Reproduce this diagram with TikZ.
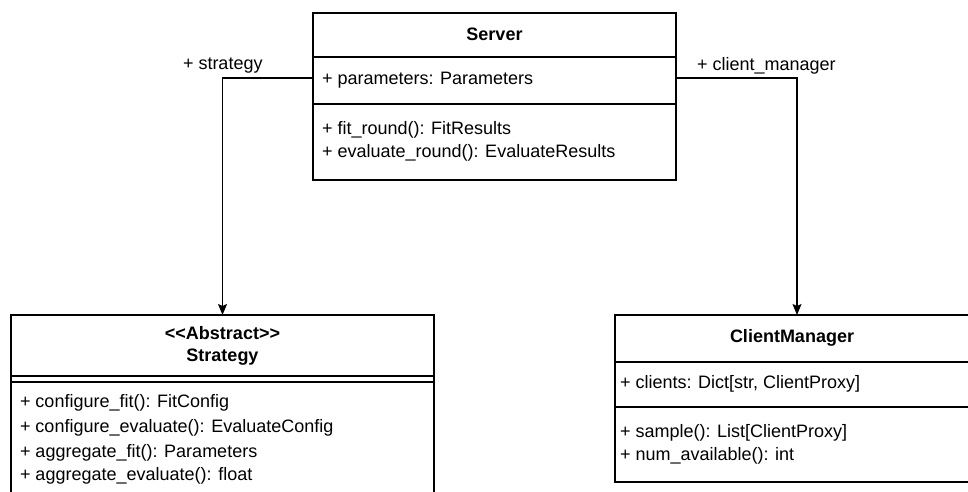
\documentclass[tikz,border=0pt]{standalone}
\usepackage{fontspec}
\setmainfont{Liberation Sans}
\usetikzlibrary{arrows.meta}
\begin{document}
\begin{tikzpicture}[x=1pt,y=-1pt,
  every node/.style={font=\fontsize{18}{22}\selectfont, inner sep=0pt, outer sep=0pt},
  classbox/.style={draw, line width=1.2pt, rectangle, anchor=north west},
  sepline/.style={line width=1.2pt},
  member/.style={anchor=west},
  title/.style={font=\fontsize{18}{22}\selectfont\bfseries},
  assoc/.style={line width=1.2pt, -{Stealth[length=11pt,width=9pt,inset=2pt]}}]
\useasboundingbox (0,0) rectangle (968,491);
\clip (0,0) rectangle (968,491);

% Server
\node[classbox, minimum width=363pt, minimum height=167pt] (server) at (313,13) {};
\draw[sepline] (313,57) -- (676,57);
\draw[sepline] (313,104) -- (676,104);
\node[title] (serverT) at (494.5,34) {Server};
\node[member] (serverA) at (322,80) {+ parameters: Parameters};
\node[member] (serverM1) at (322,130) {+ fit\_round(): FitResults};
\node[member] (serverM2) at (322,153) {+ evaluate\_round(): EvaluateResults};

% Strategy
\node[classbox, minimum width=423pt, minimum height=220pt] (strategy) at (11,315) {};
\draw[sepline] (11,376) -- (434,376);
\draw[sepline] (11,382) -- (434,382);
\node[title] (strategyS) at (222.5,333) {<{}<Abstract>{}>};
\node[title] (strategyT) at (222.5,357) {Strategy};
\node[member] (strategyM1) at (20,403) {+ configure\_fit(): FitConfig};
\node[member] (strategyM2) at (20,428) {+ configure\_evaluate(): EvaluateConfig};
\node[member] (strategyM3) at (20,453) {+ aggregate\_fit(): Parameters};
\node[member] (strategyM4) at (20,476) {+ aggregate\_evaluate(): float};

% ClientManager
\node[classbox, minimum width=360pt, minimum height=167pt] (cm) at (615,315) {};
\draw[sepline] (615,362) -- (975,362);
\draw[sepline] (615,407) -- (975,407);
\node[title] (cmT) at (792,338) {ClientManager};
\node[member] (cmA) at (620,384) {+ clients: Dict[str, ClientProxy]};
\node[member] (cmM1) at (620,433) {+ sample(): List[ClientProxy]};
\node[member] (cmM2) at (620,456) {+ num\_available(): int};

% Associations
\coordinate (sL) at (313,78);
\coordinate (sR) at (676,78);
\coordinate (cmTop) at (797,315);
\draw[assoc] (sL) -| (strategy.north);
\draw[assoc] (sR) -| (cmTop);
\node[anchor=west] (lblS) at (183,66) {+ strategy};
\node[anchor=west] (lblC) at (697,66) {+ client\_manager};
\end{tikzpicture}
\end{document}
